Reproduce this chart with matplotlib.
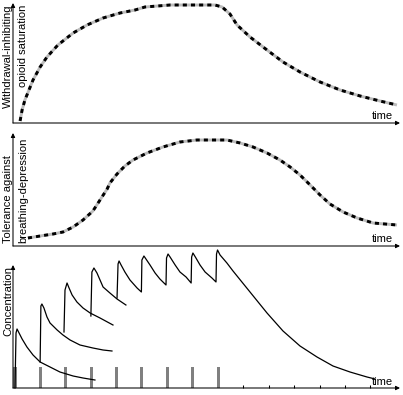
import numpy as np
import matplotlib
matplotlib.use("Agg")
from matplotlib import pyplot as plt

plt.rcParams['font.family'] = ['Liberation Sans', 'DejaVu Sans']

# ---- data (time in dosing intervals, values in arbitrary units) ----
sat_t = [0.20, 0.28, 0.39, 0.55, 0.71, 0.99, 1.26, 1.69, 2.29, 2.84, 3.47, 4.14,
         4.73, 5.12, 6.11, 7.88, 8.16, 8.47, 8.75, 9.26, 9.93, 10.56, 11.23,
         12.02, 12.81, 13.60, 14.38, 15.05]
sat_y = [2, 13, 23, 33, 43, 56, 66, 78, 90, 98, 105, 110,
         113, 116, 118, 118, 116, 109, 98, 86, 73, 61, 51,
         41, 33, 27, 22, 18]

tol_t = [0.51, 0.99, 1.50, 1.89, 2.29, 2.68, 3.07, 3.35, 3.63, 3.74, 4.02, 4.33,
         4.65, 5.20, 5.83, 6.50, 7.17, 8.35, 8.87, 9.38, 9.93, 10.44, 10.84,
         11.23, 11.63, 12.02, 12.41, 12.93, 13.48, 14.11, 15.05]
tol_y = [8, 10, 12, 14, 19, 26, 35, 46, 57, 63, 72, 80,
         86, 93, 99, 104, 106, 106, 103, 99, 93, 86, 79,
         71, 61, 51, 42, 34, 28, 23, 21]

# single-dose tails for the first four doses
conc1_t = [0, 0.04, 0.08, 0.16, 0.28, 0.47, 0.71, 0.99, 1.38, 1.77, 2.29, 2.68, 3.15]
conc1_y = [0, 55, 59, 55, 49, 41, 33, 26, 21, 16, 12, 10, 8]
conc2_t = [0.99, 1.02, 1.06, 1.14, 1.26, 1.38, 1.66, 1.89, 2.17, 2.56, 3.07, 3.47, 3.82]
conc2_y = [26, 82, 84, 80, 71, 65, 58, 53, 48, 43, 40, 38, 37]
conc3_t = [1.93, 1.97, 2.05, 2.13, 2.25, 2.44, 2.68, 2.96, 3.35, 3.86]
conc3_y = [56, 98, 105, 100, 93, 86, 80, 75, 70, 63]
conc4_t = [2.99, 3.03, 3.11, 3.23, 3.35, 3.47, 3.74, 4.02, 4.37]
conc4_y = [72, 116, 120, 115, 108, 101, 95, 89, 83]
# repeated dosing from dose 5 on, then washout
conc5_t = [4.02, 4.06, 4.10, 4.18, 4.33, 4.53, 4.81, 4.98,
           5.00, 5.08, 5.16, 5.32, 5.52, 5.71, 5.95,
           5.97, 6.03, 6.11, 6.31, 6.50, 6.74, 6.94,
           6.96, 7.01, 7.13, 7.29, 7.49, 7.76, 7.92,
           7.94, 7.98, 8.08, 8.35, 8.59, 9.26, 9.93, 10.56, 11.23,
           11.90, 12.53, 13.20, 13.87, 14.19]
conc5_y = [90, 124, 127, 123, 116, 108, 100, 96,
           128, 132, 129, 123, 115, 109, 103,
           130, 134, 131, 123, 116, 111, 105,
           131, 135, 130, 123, 116, 110, 106,
           134, 138, 133, 125, 117, 96, 75, 57, 42,
           31, 22, 16, 11, 9]

doses = [0, 1, 2, 3, 4, 5, 6, 7, 8]
dose_height = 21
tick_t = [9, 10, 11, 12, 13, 14]

W, H = 403, 395
fig = plt.figure(figsize=(W / 100, H / 100), dpi=100)


def panel(top, bottom):
    ax = fig.add_axes([13 / W, 1 - bottom / H, 387 / W, (bottom - top) / H])
    ax.set_xlim(-0.079, 15.17)
    ax.set_ylim(0, bottom - top)
    for s in ax.spines.values():
        s.set_visible(False)
    ax.set_xticks([])
    ax.set_yticks([])
    arrow = dict(arrowstyle='-|>', color='black', lw=0.75,
                 mutation_scale=6, shrinkA=0, shrinkB=0)
    ax.annotate('', xy=(0, 1), xytext=(0, 0), xycoords='axes fraction',
                arrowprops=arrow, annotation_clip=False)
    ax.annotate('', xy=(1, 0), xytext=(0, 0), xycoords='axes fraction',
                arrowprops=arrow, annotation_clip=False)
    return ax


def dotted(ax, t, y):
    ax.plot(t, y, color='#bcbcbc', lw=2.1, solid_capstyle='butt', clip_on=False)
    ax.plot(t, y, color='black', lw=2.1, dashes=(1.4, 1.4),
            dash_capstyle='butt', clip_on=False)


ax1 = panel(3, 123)
dotted(ax1, sat_t, sat_y)

ax2 = panel(133, 246)
dotted(ax2, tol_t, tol_y)

ax3 = panel(265, 388)
ax3.bar(doses, dose_height, width=0.12, color='#808080', zorder=1)
for t, y in [(conc1_t, conc1_y), (conc2_t, conc2_y), (conc3_t, conc3_y),
             (conc4_t, conc4_y), (conc5_t, conc5_y)]:
    ax3.plot(t, y, color='black', lw=0.9, clip_on=False, zorder=2)
ax3.set_xticks(tick_t)
ax3.tick_params(axis='x', direction='in', length=2.5, width=0.75,
                labelbottom=False)

fs = 8
for yb in [119, 242, 385]:
    fig.text(393 / W, 1 - yb / H, 'time', ha='right', va='baseline', fontsize=fs)

fig.text(8 / W, 1 - 5 / H, 'Withdrawal-inhibiting', rotation=90,
         ha='center', va='top', fontsize=fs)
fig.text(23 / W, 1 - 5 / H, 'opioid saturation', rotation=90,
         ha='center', va='top', fontsize=fs)
fig.text(8 / W, 1 - 243 / H, 'Tolerance against', rotation=90,
         ha='center', va='bottom', fontsize=fs)
fig.text(23 / W, 1 - 243 / H, 'breathing-depression', rotation=90,
         ha='center', va='bottom', fontsize=fs)
fig.text(8 / W, 1 - 301 / H, 'Concentration', rotation=90,
         ha='center', va='center', fontsize=fs)

fig.savefig('out.png', dpi=100)
